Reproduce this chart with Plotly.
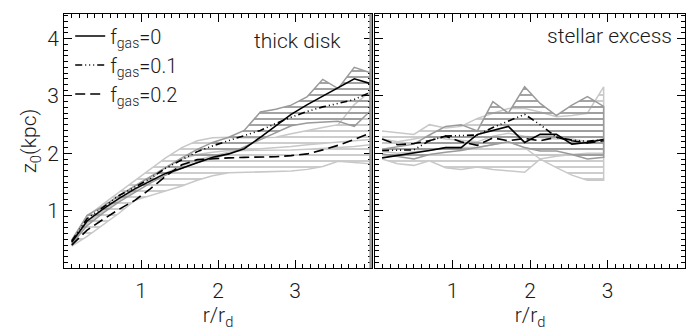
import plotly.graph_objects as go
from plotly.subplots import make_subplots

# ---------------- data ----------------
r_left = [0.10, 0.30, 0.51, 0.71, 0.92, 1.12, 1.32, 1.53, 1.73, 1.93,
          2.14, 2.34, 2.55, 2.75, 2.95, 3.16, 3.36, 3.56, 3.77, 3.97]
z_thick_f00 = [0.45, 0.82, 1.03, 1.21, 1.38, 1.52, 1.65, 1.74, 1.84, 1.93,
               1.99, 2.08, 2.28, 2.48, 2.68, 2.85, 3.00, 3.14, 3.30, 3.22]
z_thick_f01 = [0.47, 0.86, 1.06, 1.26, 1.41, 1.56, 1.74, 1.89, 2.03, 2.13,
               2.22, 2.31, 2.40, 2.52, 2.63, 2.73, 2.81, 2.87, 2.94, 3.06]
z_thick_f02 = [0.40, 0.66, 0.85, 1.02, 1.18, 1.38, 1.60, 1.80, 1.89, 1.91,
               1.92, 1.93, 1.93, 1.94, 1.96, 1.99, 2.06, 2.14, 2.24, 2.35]
# bands (upper / lower) for left panel
thick_band0_hi = [0.48, 0.92, 1.08, 1.26, 1.43, 1.59, 1.76, 1.92, 2.07, 2.19,
                  2.28, 2.40, 2.72, 2.77, 2.84, 2.99, 3.29, 3.13, 3.50, 3.41]
thick_band0_lo = [0.42, 0.74, 0.96, 1.15, 1.32, 1.48, 1.62, 1.74, 1.84, 1.91,
                  1.99, 2.10, 2.24, 2.36, 2.48, 2.53, 2.55, 2.56, 2.47, 2.73]
thick_band1_hi = [0.49, 0.90, 1.12, 1.32, 1.52, 1.72, 1.92, 2.10, 2.22, 2.27,
                  2.28, 2.27, 2.27, 2.28, 2.34, 2.40, 2.45, 2.50, 2.85, 3.07]
thick_band1_lo = [0.44, 0.78, 1.00, 1.20, 1.38, 1.52, 1.66, 1.78, 1.88, 1.96,
                  2.02, 2.06, 2.08, 2.10, 2.12, 2.15, 2.18, 2.20, 2.22, 2.24]
thick_band2_hi = [0.45, 0.80, 1.00, 1.18, 1.35, 1.55, 1.75, 1.90, 1.98, 2.02,
                  2.05, 2.05, 2.05, 2.05, 2.06, 2.07, 2.08, 2.10, 2.12, 2.15]
thick_band2_lo = [0.38, 0.55, 0.75, 0.95, 1.18, 1.26, 1.34, 1.43, 1.53, 1.61,
                  1.66, 1.66, 1.67, 1.68, 1.69, 1.72, 1.77, 1.86, 1.84, 1.82]

r_right = [0.09, 0.29, 0.50, 0.70, 0.91, 1.11, 1.32, 1.52, 1.72, 1.93,
           2.13, 2.34, 2.54, 2.74, 2.95]
z_exc_f00 = [1.92, 1.96, 2.00, 2.05, 2.10, 2.10, 2.33, 2.40, 2.47, 2.19,
             2.33, 2.33, 2.16, 2.19, 2.24]
z_exc_f01 = [2.05, 2.05, 2.06, 2.22, 2.30, 2.31, 2.32, 2.45, 2.56, 2.68,
             2.50, 2.28, 2.23, 2.21, 2.24]
z_exc_f02 = [2.25, 2.15, 2.17, 2.22, 2.30, 2.20, 2.14, 2.27, 2.22, 2.26,
             2.22, 2.28, 2.22, 2.18, 2.22]
exc_band0_hi = [2.07, 2.11, 2.16, 2.32, 2.47, 2.50, 2.39, 2.90, 2.70, 3.16,
                2.87, 2.66, 2.84, 2.99, 2.82]
exc_band0_lo = [1.99, 1.95, 1.90, 1.98, 2.02, 2.05, 2.10, 2.15, 2.20, 2.10,
                2.04, 2.04, 1.98, 1.90, 1.93]
exc_band1_hi = [2.39, 2.36, 2.33, 2.50, 2.44, 2.47, 2.61, 2.70, 2.78, 2.78,
                2.72, 2.64, 2.66, 2.70, 3.16]
exc_band1_lo = [2.03, 2.00, 2.02, 2.05, 2.10, 2.10, 2.10, 2.15, 2.20, 2.10,
                1.90, 1.95, 1.98, 2.00, 2.00]
exc_band2_hi = [2.25, 2.20, 2.25, 2.30, 2.25, 2.22, 2.20, 2.30, 2.35, 2.30,
                2.28, 2.25, 2.25, 2.20, 2.25]
exc_band2_lo = [1.90, 1.82, 1.79, 1.87, 1.75, 1.72, 1.76, 1.72, 1.69, 1.67,
                1.90, 1.75, 1.62, 1.53, 1.53]

legend_labels = ["f<sub>gas</sub>=0", "f<sub>gas</sub>=0.1", "f<sub>gas</sub>=0.2"]
x_ticks = [1, 2, 3]
y_ticks = [1, 2, 3, 4]

# ---------------- style ----------------
DARK = "#9a9a9a"
LIGHT = "#c8c8c8"
FONT = "Roboto"
TXT = "#1a1a1a"
dashes = ["solid", "7px,3px,1px,3px,1px,3px,1px,3px", "10px,5px"]

fig = make_subplots(rows=1, cols=2, shared_yaxes=False, horizontal_spacing=0.005)


def band(r, hi, lo, color, col):
    fig.add_trace(go.Scatter(
        x=list(r) + list(r)[::-1], y=list(hi) + list(lo)[::-1],
        mode="lines", fill="toself", fillcolor="rgba(0,0,0,0)",
        fillpattern=dict(shape="-", size=6, solidity=0.3, fgcolor=color,
                         bgcolor="rgba(0,0,0,0)", fillmode="replace"),
        line=dict(color=color, width=1.5), showlegend=False, hoverinfo="skip"),
        row=1, col=col)


band(r_left, thick_band2_hi, thick_band2_lo, LIGHT, 1)
band(r_left, thick_band1_hi, thick_band1_lo, LIGHT, 1)
band(r_left, thick_band0_hi, thick_band0_lo, DARK, 1)
band(r_right, exc_band2_hi, exc_band2_lo, LIGHT, 2)
band(r_right, exc_band1_hi, exc_band1_lo, LIGHT, 2)
band(r_right, exc_band0_hi, exc_band0_lo, DARK, 2)

for i, (zl, zr) in enumerate([(z_thick_f00, z_exc_f00), (z_thick_f01, z_exc_f01),
                              (z_thick_f02, z_exc_f02)]):
    fig.add_trace(go.Scatter(x=r_left, y=zl, mode="lines", name=legend_labels[i],
                             line=dict(color="black", width=1.6, dash=dashes[i]),
                             showlegend=True), row=1, col=1)
    fig.add_trace(go.Scatter(x=r_right, y=zr, mode="lines",
                             line=dict(color="black", width=1.6, dash=dashes[i]),
                             showlegend=False), row=1, col=2)

# gray vertical edge at right of left panel
fig.add_vline(x=3.985, line=dict(color="#9a9a9a", width=3), row=1, col=1)

tfont = dict(family=FONT, size=21, color=TXT, weight=300)
axis_common = dict(range=[0, 4], showline=True, linecolor="black", linewidth=1,
                   mirror="allticks", ticks="inside", ticklen=8, tickcolor="black",
                   tickwidth=1, showgrid=False, zeroline=False,
                   tickvals=x_ticks, ticktext=[str(v) for v in x_ticks],
                   tickfont=tfont, ticklabelstandoff=4,
                   minor=dict(ticks="inside", ticklen=4, dtick=0.1, tickcolor="black",
                              showgrid=False),
                   title=dict(text="r/r<sub>d</sub>", font=tfont, standoff=4))
fig.update_xaxes(**axis_common)
yaxis_common = dict(range=[0, 4.43], showline=True, linecolor="black", linewidth=1,
                    mirror="allticks", ticks="inside", ticklen=8, tickcolor="black",
                    tickwidth=1, showgrid=False, zeroline=False, tickvals=y_ticks,
                    tickfont=tfont,
                    minor=dict(ticks="inside", ticklen=4, dtick=0.1, tickcolor="black",
                               showgrid=False))
fig.update_yaxes(**yaxis_common)
fig.update_yaxes(title=dict(text="z<sub>0</sub>(kpc)", font=tfont, standoff=4), row=1, col=1)
fig.update_yaxes(showticklabels=False, row=1, col=2)

fig.update_layout(
    width=698, height=334,
    margin=dict(l=64, r=13, t=14, b=62),
    plot_bgcolor="white", paper_bgcolor="white",
    font=dict(family=FONT, color=TXT, weight=300),
    legend=dict(x=0.01, y=0.99, xanchor="left", yanchor="top",
                bgcolor="rgba(0,0,0,0)", font=dict(family=FONT, size=20, color=TXT, weight=300),
                itemwidth=30, tracegroupgap=0),
    xaxis=dict(domain=[0, 0.496]), xaxis2=dict(domain=[0.501, 1]),
)
fig.add_annotation(text="thick disk", xref="x domain", yref="y domain", x=0.905, y=0.895,
                   xanchor="right", yanchor="middle", showarrow=False,
                   font=dict(family=FONT, size=21, color=TXT, weight=300))
fig.add_annotation(text="stellar excess", xref="x2 domain", yref="y2 domain", x=0.965, y=0.915,
                   xanchor="right", yanchor="middle", showarrow=False,
                   font=dict(family=FONT, size=21, color=TXT, weight=300))

fig.write_html("out.html")
